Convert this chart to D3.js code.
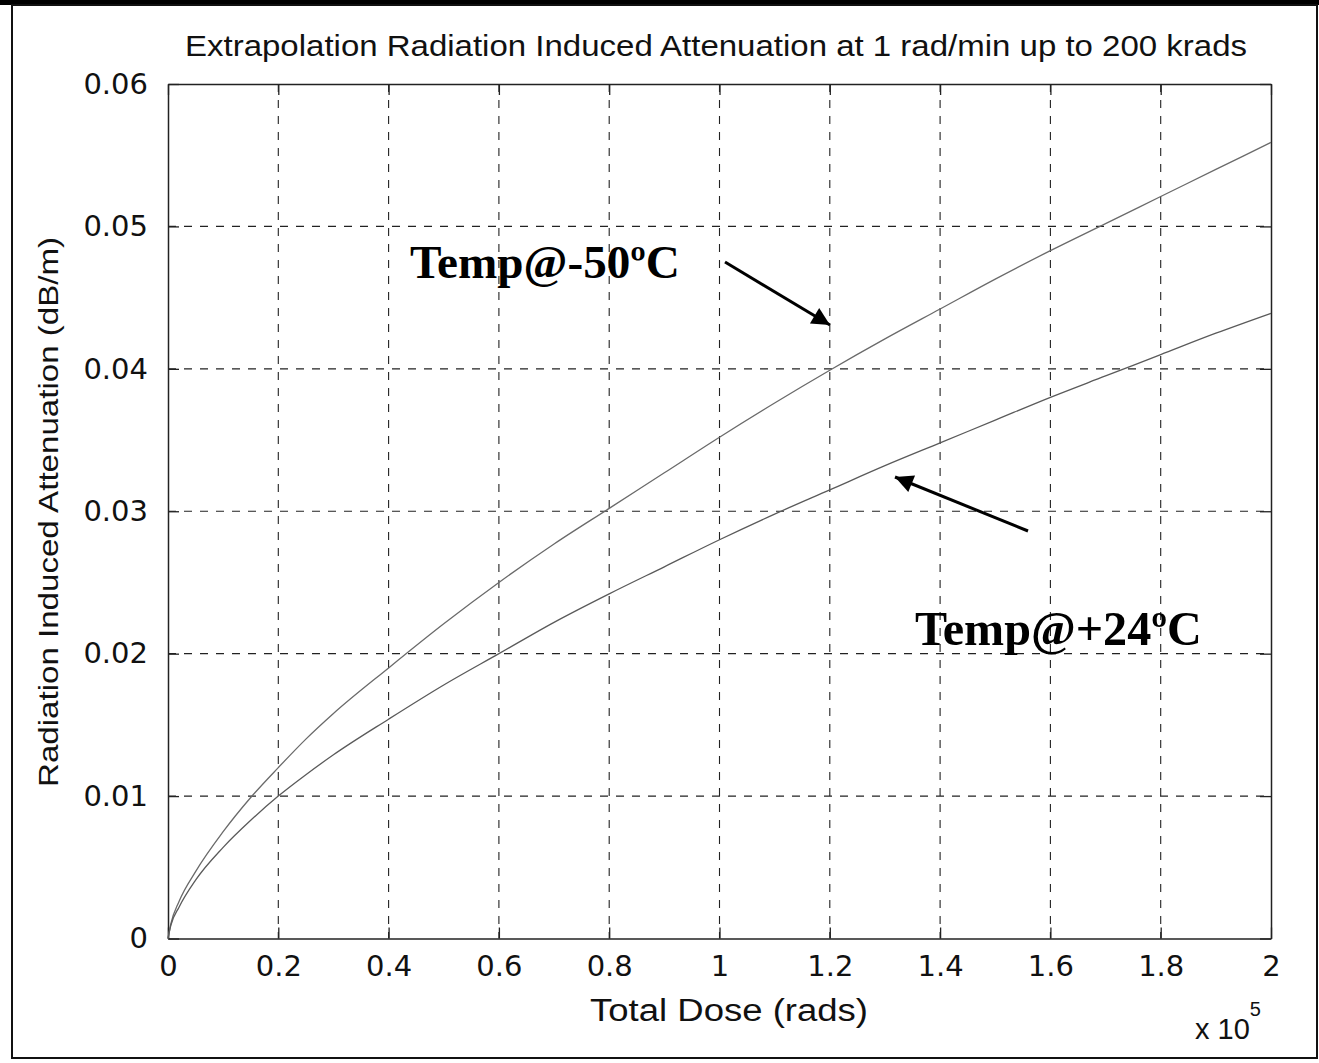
<!DOCTYPE html>
<html>
<head>
<meta charset="utf-8">
<script src="https://cdn.jsdelivr.net/npm/d3@7"></script>
<style>
  html, body { margin: 0; padding: 0; background: #fff; }
  svg { display: block; }
</style>
</head>
<body>
<svg id="chart" width="1319" height="1063"></svg>
<script>
// ---------------- DATA ----------------
const chartTitle = "Extrapolation Radiation Induced Attenuation at 1 rad/min up to 200 krads";
const xAxisTitle = "Total Dose (rads)";
const yAxisTitle = "Radiation Induced Attenuation (dB/m)";
const xExponentLabel = "x 10";
const xExponent = "5";

// Total dose in rads
const dose = [0, 500, 2000, 5000, 10000, 15000, 20000, 25000, 30000, 40000, 50000, 60000, 70000, 80000,
  90000, 100000, 110000, 120000, 130000, 140000, 150000, 160000, 170000, 180000, 190000, 200000];

// Attenuation (dB/m) at -50 C
const attenMinus50 = [0, 0.0010, 0.0026, 0.0047, 0.0075, 0.0099, 0.0120, 0.0140, 0.0158, 0.0190, 0.0221, 0.0250,
  0.0277, 0.0302, 0.0327, 0.0352, 0.0376, 0.0399, 0.0421, 0.0442, 0.0463, 0.0483, 0.0502, 0.0521, 0.0540, 0.0559];

// Attenuation (dB/m) at +24 C
const attenPlus24 = [0, 0.0009, 0.0022, 0.0041, 0.0064, 0.0083, 0.0100, 0.0115, 0.0129, 0.0154, 0.0178, 0.0200,
  0.0222, 0.0242, 0.0261, 0.0280, 0.0298, 0.0315, 0.0332, 0.0348, 0.0364, 0.0380, 0.0395, 0.0410, 0.0425, 0.0439];

const xTickValues = [0, 20000, 40000, 60000, 80000, 100000, 120000, 140000, 160000, 180000, 200000];
const xTickLabels = ["0", "0.2", "0.4", "0.6", "0.8", "1", "1.2", "1.4", "1.6", "1.8", "2"];
const yTickValues = [0, 0.01, 0.02, 0.03, 0.04, 0.05, 0.06];
const yTickLabels = ["0", "0.01", "0.02", "0.03", "0.04", "0.05", "0.06"];

const annotationMinus50 = "Temp@-50ºC";
const annotationPlus24 = "Temp@+24ºC";
// ----------------------------------------

const svg = d3.select("#chart");
const W = 1319, H = 1063;
const plot = { left: 168, right: 1271, top: 84, bottom: 938.5 };

const x = d3.scaleLinear().domain([0, 200000]).range([plot.left, plot.right]);
const y = d3.scaleLinear().domain([0, 0.06]).range([plot.bottom, plot.top]);

const tickFont = "'DejaVu Sans', 'Liberation Sans', Arial, sans-serif";
const sansFont = "'Liberation Sans', Arial, Helvetica, sans-serif";
const serifFont = "'Liberation Serif', 'Times New Roman', serif";

// outer frame
svg.append("rect").attr("x", 0).attr("y", 0).attr("width", W).attr("height", H).attr("fill", "#fff");
svg.append("rect").attr("x", 0).attr("y", 0).attr("width", W).attr("height", 5).attr("fill", "#000");
svg.append("rect").attr("x", 12).attr("y", 5).attr("width", W - 14).attr("height", H - 10)
  .attr("fill", "none").attr("stroke", "#111").attr("stroke-width", 2);

// helper: set font size, then stretch text to target length
function stretch(sel, size, target) {
  sel.style("font-size", size + "px")
    .attr("textLength", target).attr("lengthAdjust", "spacingAndGlyphs");
  return sel;
}
function fit(sel, base, target) {
  sel.style("font-size", base + "px");
  const w = sel.node().getComputedTextLength();
  sel.style("font-size", (base * target / w) + "px");
  return sel;
}

// grid
const grid = svg.append("g").attr("class", "grid");
grid.selectAll("line.vx").data(xTickValues.slice(1, -1)).join("line")
  .attr("x1", d => x(d)).attr("x2", d => x(d))
  .attr("y1", plot.top).attr("y2", plot.bottom)
  .attr("stroke", "#222").attr("stroke-width", 1.1).attr("stroke-dasharray", "8,8");
grid.selectAll("line.hy").data(yTickValues.slice(1, -1)).join("line")
  .attr("x1", plot.left).attr("x2", plot.right)
  .attr("y1", d => y(d)).attr("y2", d => y(d))
  .attr("stroke", "#222").attr("stroke-width", 1.1).attr("stroke-dasharray", "8,8");

// axes (ticks inward, all four sides)
const tickLen = 11;
const xAxisBottom = d3.axisBottom(x).tickValues(xTickValues).tickSizeInner(-tickLen).tickSizeOuter(0)
  .tickPadding(tickLen + 6).tickFormat((d, i) => xTickLabels[i]);
const xAxisTop = d3.axisTop(x).tickValues(xTickValues).tickSizeInner(-tickLen).tickSizeOuter(0).tickFormat("");
const yAxisLeft = d3.axisLeft(y).tickValues(yTickValues).tickSizeInner(-tickLen).tickSizeOuter(0)
  .tickPadding(tickLen + 9).tickFormat((d, i) => yTickLabels[i]);
const yAxisRight = d3.axisRight(y).tickValues(yTickValues).tickSizeInner(-tickLen).tickSizeOuter(0).tickFormat("");

function styleAxis(g) {
  g.select(".domain").attr("stroke", "#222").attr("stroke-width", 1.5);
  g.selectAll(".tick line").attr("stroke", "#222").attr("stroke-width", 1.3);
  g.selectAll(".tick text").attr("fill", "#111").style("font-family", tickFont).style("font-size", "29px");
}
svg.append("g").attr("transform", `translate(0,${plot.bottom})`).call(xAxisBottom).call(styleAxis)
  .selectAll(".tick text").attr("dy", "0.71em");
svg.append("g").attr("transform", `translate(0,${plot.top})`).call(xAxisTop).call(styleAxis);
svg.append("g").attr("transform", `translate(${plot.left},0)`).call(yAxisLeft).call(styleAxis);
svg.append("g").attr("transform", `translate(${plot.right},0)`).call(yAxisRight).call(styleAxis);

// curves
const line = d3.line().x(d => x(d[0])).y(d => y(d[1])).curve(d3.curveMonotoneX);
const series = [
  { values: attenMinus50, color: "#6a6a6a" },
  { values: attenPlus24, color: "#5a5a5a" }
];
svg.append("g").selectAll("path").data(series).join("path")
  .attr("d", s => line(dose.map((d, i) => [d, s.values[i]])))
  .attr("fill", "none").attr("stroke", s => s.color).attr("stroke-width", 1.3);

// titles
stretch(svg.append("text").attr("x", 716).attr("y", 56).attr("text-anchor", "middle")
  .style("font-family", sansFont).attr("fill", "#111").text(chartTitle), 29, 1062);
stretch(svg.append("text").attr("x", 729).attr("y", 1021).attr("text-anchor", "middle")
  .style("font-family", sansFont).attr("fill", "#111").text(xAxisTitle), 31, 278);
stretch(svg.append("text").attr("transform", "translate(58,512) rotate(-90)").attr("text-anchor", "middle")
  .style("font-family", sansFont).attr("fill", "#111").text(yAxisTitle), 28, 550);

// exponent label
const expText = svg.append("text").attr("x", 1195).attr("y", 1039)
  .style("font-family", sansFont).style("font-size", "29px").attr("fill", "#111");
expText.append("tspan").text(xExponentLabel);
expText.append("tspan").attr("dy", -23).style("font-size", "20px").text(xExponent);

// annotations
const defs = svg.append("defs");
defs.append("marker").attr("id", "arrowhead").attr("viewBox", "0 0 10 10")
  .attr("refX", 10).attr("refY", 5).attr("markerWidth", 7).attr("markerHeight", 6)
  .attr("markerUnits", "strokeWidth").attr("orient", "auto")
  .append("path").attr("d", "M0,0 L10,5 L0,10 Z").attr("fill", "#000");

fit(svg.append("text").attr("x", 410).attr("y", 278)
  .style("font-family", serifFont).style("font-weight", "bold").attr("fill", "#000")
  .text(annotationMinus50), 46, 270);
fit(svg.append("text").attr("x", 915).attr("y", 645)
  .style("font-family", serifFont).style("font-weight", "bold").attr("fill", "#000")
  .text(annotationPlus24), 46, 287);

svg.append("line").attr("x1", 725).attr("y1", 262).attr("x2", 830).attr("y2", 325)
  .attr("stroke", "#000").attr("stroke-width", 3).attr("marker-end", "url(#arrowhead)");
svg.append("line").attr("x1", 1028).attr("y1", 531).attr("x2", 895).attr("y2", 477)
  .attr("stroke", "#000").attr("stroke-width", 3).attr("marker-end", "url(#arrowhead)");
</script>
</body>
</html>
